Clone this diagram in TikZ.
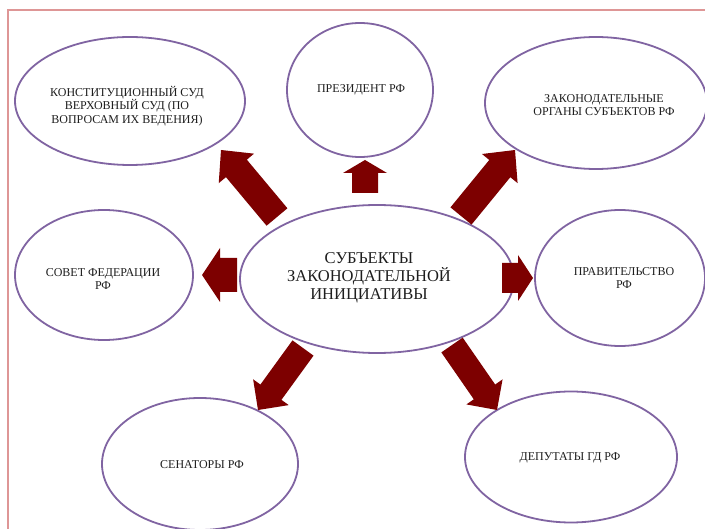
\documentclass[tikz,border=0pt]{standalone}
\usepackage{fontspec}
\setmainfont{Liberation Serif}
\usetikzlibrary{shapes.geometric,calc}
\definecolor{ellline}{RGB}{128,100,162}
\definecolor{arrred}{RGB}{125,0,0}
\definecolor{framepink}{RGB}{222,150,150}
\definecolor{txt}{RGB}{30,30,30}
% #1 tail, #2 tip, #3 shaft half width, #4 head half width, #5 head length
\newcommand{\blockarr}[5]{%
  \coordinate (H) at ($(#2)!#5!(#1)$);
  \fill[arrred] ($(#1)!#3!90:(#2)$) -- ($(H)!#3!90:(#2)$) -- ($(H)!#4!90:(#2)$)
    -- (#2) -- ($(H)!#4!-90:(#2)$) -- ($(H)!#3!-90:(#2)$) -- ($(#1)!#3!-90:(#2)$) -- cycle;
}
\begin{document}
\begin{tikzpicture}[x=1pt,y=-1pt,
  ell/.style={draw=ellline, line width=1.8pt, ellipse, inner sep=0pt, fill=white},
  lbl/.style={text=txt, align=center, font=\fontsize{12}{13.5}\selectfont, inner sep=0pt},
  biglbl/.style={text=txt, align=center, font=\fontsize{16.5}{18}\selectfont, inner sep=0pt}]
\useasboundingbox (0,0) rectangle (705,529);
\fill[white] (0,0) rectangle (705,529);
\draw[framepink, line width=2pt] (8,532) -- (8,10) -- (708,10);

% ellipses
\node[ell, minimum width=230pt, minimum height=128pt] (ks) at (130,101) {};
\node[ell, minimum width=146pt, minimum height=134pt] (pr) at (360,90) {};
\node[ell, minimum width=222pt, minimum height=132pt] (zo) at (596,103) {};
\node[ell, minimum width=178pt, minimum height=130pt] (sf) at (104,275) {};
\node[ell, minimum width=274pt, minimum height=148pt] (c) at (377,279) {};
\node[ell, minimum width=170pt, minimum height=136pt] (pv) at (620,278) {};
\node[ell, minimum width=196pt, minimum height=132pt] (se) at (200,464) {};
\node[ell, minimum width=212pt, minimum height=131pt] (dp) at (571,457) {};

% labels
\node[lbl] (ks-t) at (127,106) {КОНСТИТУЦИОННЫЙ СУД\\ВЕРХОВНЫЙ СУД (ПО\\ВОПРОСАМ ИХ ВЕДЕНИЯ)};
\node[lbl] (pr-t) at (361,90) {ПРЕЗИДЕНТ РФ};
\node[lbl] (zo-t) at (604,105) {ЗАКОНОДАТЕЛЬНЫЕ\\ОРГАНЫ СУБЪЕКТОВ РФ};
\node[lbl] (sf-t) at (103,279) {СОВЕТ ФЕДЕРАЦИИ\\РФ};
\node[biglbl] (c-t) at (369,278) {СУБЪЕКТЫ\\ЗАКОНОДАТЕЛЬНОЙ\\ИНИЦИАТИВЫ};
\node[lbl] (pv-t) at (624,278) {ПРАВИТЕЛЬСТВО\\РФ};
\node[lbl] (se-t) at (202,465) {СЕНАТОРЫ РФ};
\node[lbl] (dp-t) at (570,458) {ДЕПУТАТЫ ГД РФ};

% arrow end points
\coordinate (aUL0) at (277,217); \coordinate (aUL1) at (221,150);
\coordinate (aU0) at (365,193);  \coordinate (aU1) at (365,160);
\coordinate (aUR0) at (461,216); \coordinate (aUR1) at (515,150);
\coordinate (aL0) at (237,275);  \coordinate (aL1) at (202,275);
\coordinate (aR0) at (502,278);  \coordinate (aR1) at (533,278);
\coordinate (aDL0) at (303,348); \coordinate (aDL1) at (258,410);
\coordinate (aDR0) at (452,345); \coordinate (aDR1) at (497,410);

\blockarr{aUL0}{aUL1}{13.6pt}{23pt}{24pt}
\blockarr{aU0}{aU1}{13pt}{22pt}{13pt}
\blockarr{aUR0}{aUR1}{13.6pt}{23pt}{24pt}
\blockarr{aL0}{aL1}{17pt}{27pt}{18pt}
\blockarr{aR0}{aR1}{15pt}{23pt}{15pt}
\blockarr{aDL0}{aDL1}{13pt}{22pt}{22pt}
\blockarr{aDR0}{aDR1}{13pt}{22pt}{22pt}
\end{tikzpicture}
\end{document}
